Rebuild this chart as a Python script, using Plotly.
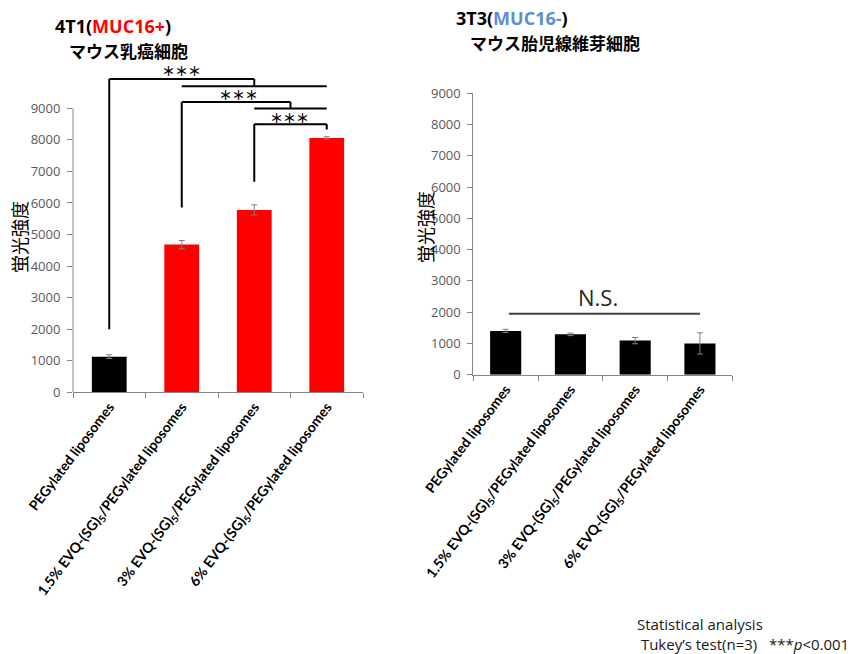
import plotly.graph_objects as go

# ---- data -------------------------------------------------------------
categories = [
    "PEGylated liposomes",
    "1.5% EVQ-(SG)<sub>5</sub>/PEGylated liposomes",
    "3% EVQ-(SG)<sub>5</sub>/PEGylated liposomes",
    "6% EVQ-(SG)<sub>5</sub>/PEGylated liposomes",
]
t41_values = [1130, 4680, 5780, 8060]
t41_errors = [60, 130, 160, 40]
t41_colors = ["#000000", "#ff0000", "#ff0000", "#ff0000"]

t3t3_values = [1400, 1290, 1090, 1000]
t3t3_errors = [50, 40, 100, 340]

y_ticks = [0, 1000, 2000, 3000, 4000, 5000, 6000, 7000, 8000, 9000]

# significance brackets for 4T1 (x in category index, y in data units)
bracket_paths = [
    # PEGylated vs. all EVQ groups
    ([0, 0, 2, 2], [2000, 9930, 9930, 9700]),
    ([1, 3], [9700, 9700]),
    # 1.5% vs. 3% / 6%
    ([1, 1, 2.5, 2.5], [5860, 9200, 9200, 8990]),
    ([2, 3], [8990, 8990]),
    # 3% vs. 6%
    ([2, 2, 3, 3], [6670, 8495, 8495, 8330]),
]
star_x = [1.0, 1.78, 2.49]
star_y = [10200, 9440, 8715]

ns_line_x = [0.05, 3.0]
ns_line_y = 1950
ns_text_pos = (1.43, 2490)

GRAY = "#7f7f7f"
TICK_FONT = dict(family="Open Sans", size=13, color="#595959")
CAT_FONT = dict(family="Lato", size=14, color="#000000")
CJK = "Noto Sans CJK JP"

x_idx = list(range(len(categories)))
boundaries = [i - 0.5 for i in range(len(categories) + 1)]

fig = go.Figure()

fig.add_trace(go.Bar(
    x=x_idx, y=t41_values, marker=dict(color=t41_colors, line=dict(width=0)),
    error_y=dict(type="data", array=t41_errors, color=GRAY, thickness=1, width=3),
    xaxis="x", yaxis="y", showlegend=False,
))
fig.add_trace(go.Bar(
    x=x_idx, y=t3t3_values, marker=dict(color="#000000", line=dict(width=0)),
    error_y=dict(type="data", array=t3t3_errors, color=GRAY, thickness=1, width=3),
    xaxis="x2", yaxis="y2", showlegend=False,
))

common_x = dict(
    range=[-0.5, 3.5], tickmode="array", tickvals=x_idx,
    ticktext=["<b>" + c + "</b>" for c in categories],
    tickangle=-53, tickfont=CAT_FONT, ticks="", showline=True, linecolor="#868686",
    linewidth=1, showgrid=False, zeroline=False, fixedrange=True, automargin=False,
    minor=dict(tickmode="array", tickvals=boundaries, ticks="outside", ticklen=5,
               tickcolor="#868686", showgrid=False),
)
common_y = dict(
    tickmode="array", tickvals=y_ticks, ticks="outside", ticklen=5,
    tickcolor="#868686", tickfont=TICK_FONT, showgrid=False, zeroline=False,
    automargin=False, ticklabelstandoff=4,
)

fig.update_layout(
    width=866, height=654, margin=dict(l=0, r=0, t=0, b=0, autoexpand=False),
    paper_bgcolor="white", plot_bgcolor="white", bargap=0.52,
    xaxis=dict(domain=[73 / 866, 363 / 866], anchor="y", **common_x),
    yaxis=dict(domain=[(654 - 392.3) / 654, (654 - 57.8) / 654], anchor="x",
               range=[0, 10600], showline=False, **common_y),
    xaxis2=dict(domain=[473.3 / 866, 732.3 / 866], anchor="y2", **common_x),
    yaxis2=dict(domain=[(654 - 374.7) / 654, (654 - 93.3) / 654], anchor="x2",
                range=[0, 9000], showline=True, linecolor="#868686", linewidth=1,
                **common_y),
)

shapes = [
    # left value axis stops at the 9000 tick
    dict(type="line", xref="x domain", yref="y", x0=0, x1=0, y0=0, y1=9000,
         line=dict(color="#868686", width=1)),
]
for xs, ys in bracket_paths:
    for i in range(len(xs) - 1):
        shapes.append(dict(type="line", xref="x", yref="y",
                           x0=xs[i], x1=xs[i + 1], y0=ys[i], y1=ys[i + 1],
                           line=dict(color="#000000", width=2)))
shapes.append(dict(type="line", xref="x2", yref="y2",
                   x0=ns_line_x[0], x1=ns_line_x[1], y0=ns_line_y, y1=ns_line_y,
                   line=dict(color="#404040", width=2)))
fig.update_layout(shapes=shapes)

annotations = []
for sx, sy in zip(star_x, star_y):
    annotations.append(dict(x=sx, y=sy, xref="x", yref="y", text="<b>＊＊＊</b>",
                            showarrow=False, font=dict(family=CJK, size=13, color="#000")))
annotations.append(dict(x=ns_text_pos[0], y=ns_text_pos[1], xref="x2", yref="y2",
                        text="N.S.", showarrow=False,
                        font=dict(family="Open Sans", size=22, color="#262626")))

# titles and notes, placed in pixels from the top-left corner
annotations += [
    dict(x=53, y=26, xanchor="left", yanchor="middle",
         text="<b>4T1(<span style='color:#ff0000'>MUC16+</span>)</b>",
         font=dict(family="Open Sans", size=18, color="#000")),
    dict(x=67, y=50, xanchor="left", yanchor="middle",
         text="<b>マウス乳癌細胞</b>",
         font=dict(family=CJK, size=17, color="#000")),
    dict(x=454, y=18, xanchor="left", yanchor="middle",
         text="<b>3T3(<span style='color:#5b8fd0'>MUC16-</span>)</b>",
         font=dict(family="Open Sans", size=18, color="#000")),
    dict(x=468, y=42, xanchor="left", yanchor="middle",
         text="<b>マウス胎児線維芽細胞</b>",
         font=dict(family=CJK, size=17, color="#000")),
    dict(x=19, y=237, xanchor="center", yanchor="middle", textangle=-90,
         text="蛍光強度", font=dict(family=CJK, size=18, color="#000")),
    dict(x=425, y=227, xanchor="center", yanchor="middle", textangle=-90,
         text="蛍光強度", font=dict(family=CJK, size=18, color="#000")),
    dict(x=636, y=634, xanchor="left", yanchor="middle", align="left", borderpad=0,
         text="Statistical analysis<br>&nbsp;Tukey’s test(n=3)&nbsp;&nbsp;&nbsp;***<i>p</i><0.001",
         font=dict(family="Open Sans", size=15, color="#1a1a1a")),
]
# convert pixel placements of the free text into paper fractions
for a in annotations:
    if "xref" not in a:
        a.update(xref="paper", yref="paper", showarrow=False)
        a["x"] = a["x"] / 866
        a["y"] = 1 - a["y"] / 654
fig.update_layout(annotations=annotations)

fig.write_html("out.html")
